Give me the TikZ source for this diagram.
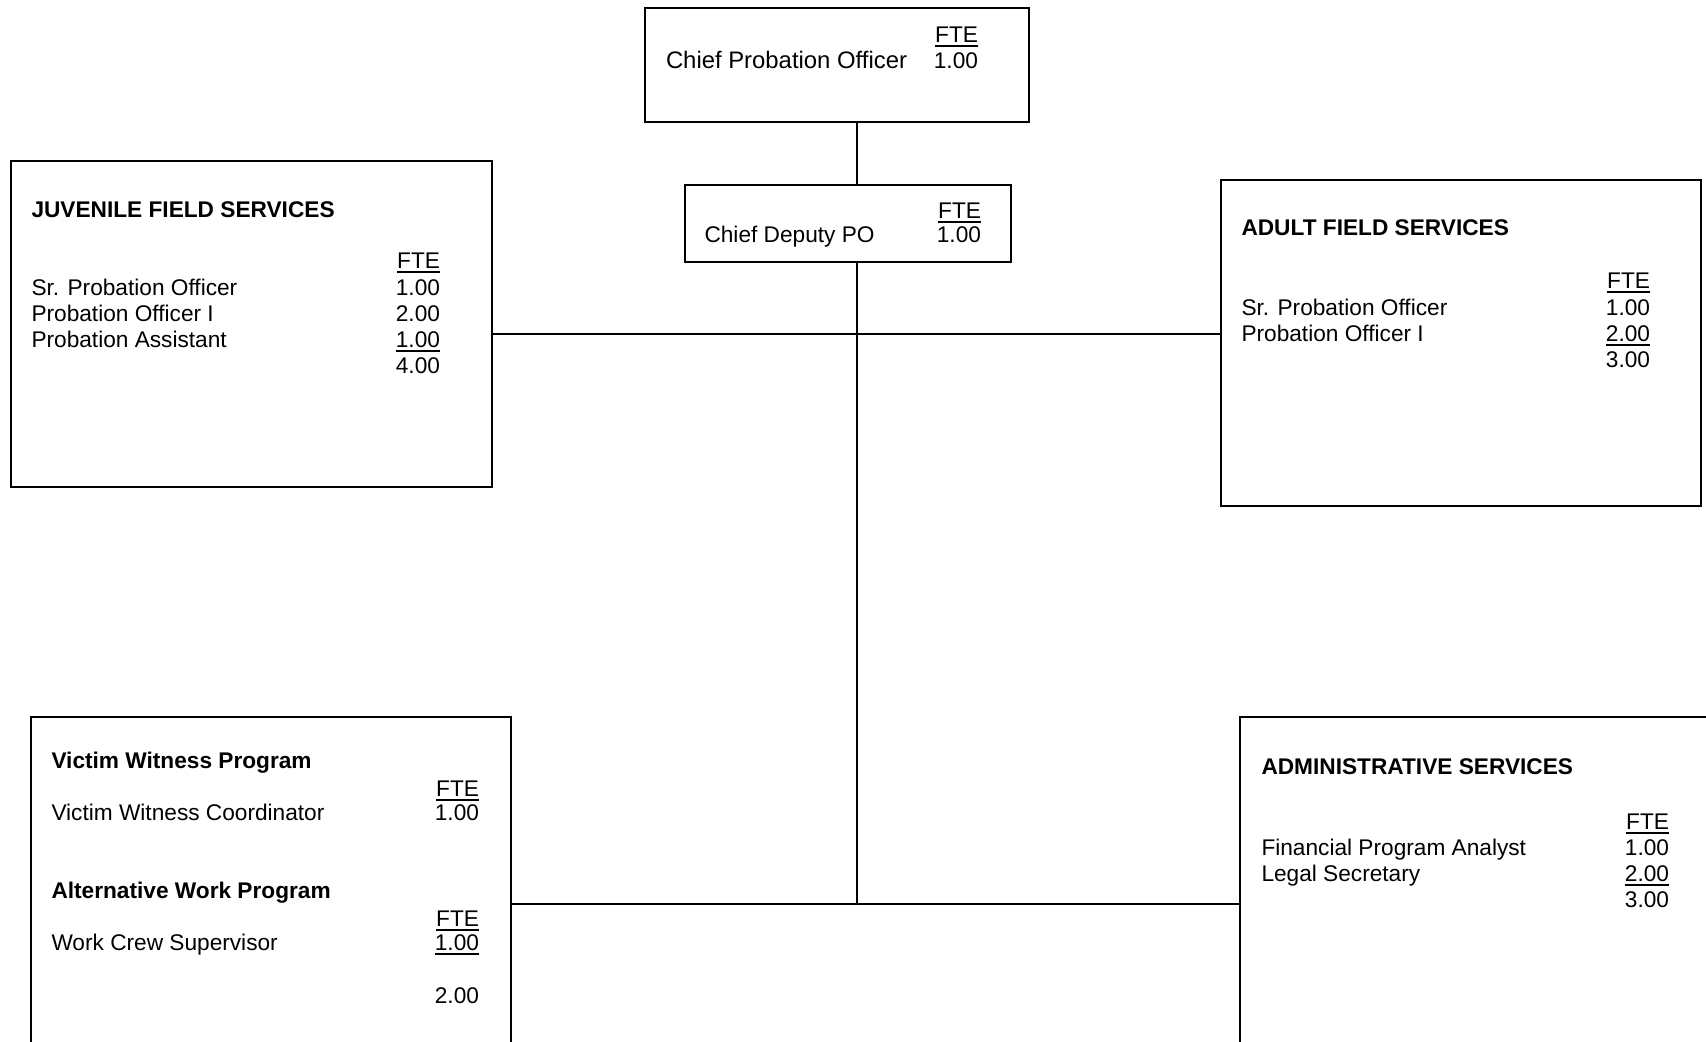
\documentclass[tikz,border=0pt]{standalone}
\usepackage{fontspec}
\setmainfont{Liberation Sans}
\newcommand\fteu[1]{\leavevmode\setbox0\hbox{#1}\rlap{\rule[-3.4pt]{\wd0}{1.5pt}}\box0}
\begin{document}
\begin{tikzpicture}[x=0.75pt,y=-0.75pt,line width=1.5pt,
  box/.style={draw,line width=1.5pt,inner sep=0pt},
  lbl/.style={anchor=base west,inner sep=0pt,font=\fontsize{17}{19.5}\selectfont},
  num/.style={anchor=base east,inner sep=0pt,font=\fontsize{17}{19.5}\selectfont},
  hd/.style={anchor=base west,inner sep=0pt,font=\fontsize{17}{19.5}\selectfont\bfseries}]
\useasboundingbox (0,0) rectangle (1706,1042);
\clip (0,0) rectangle (1706,1042);
% boxes
\node[box,minimum width=288pt,minimum height=85.9pt] (cpo) at (837,64.8) {};
\node[box,minimum width=244.5pt,minimum height=57.75pt] (cdp) at (848,223.5) {};
\node[box,minimum width=360.75pt,minimum height=244.5pt] (jfs) at (251.5,324) {};
\node[box,minimum width=360pt,minimum height=244.5pt] (afs) at (1461,343) {};
\node[box,minimum width=360pt,minimum height=255pt] (vwp) at (271,887) {};
\node[box,minimum width=360pt,minimum height=255pt] (adm) at (1480,887) {};
% connectors
\coordinate (vx) at (856.7,0);
\coordinate (hmid) at (0,334);
\coordinate (hbot) at (856.7,904);
\draw (cpo.south -| vx) -- (cdp.north -| vx);
\draw (cdp.south -| vx) -- (hbot);
\draw (jfs.east |- hmid) -- (afs.west |- hmid);
\draw (vwp.east |- hbot) -- (adm.west |- hbot);
% top
\node[lbl,font=\fontsize{17.9}{19.5}\selectfont] (cpoT) at (665,68) {Chief Probation Officer};
\node[num] (cpoF) at (979,42) {\fteu{FTE}};
\node[num] (cpoN) at (979,68) {1.00};
% deputy
\node[lbl] (cdpT) at (703.5,242) {Chief Deputy PO};
\node[num] (cdpF) at (982,218) {\fteu{FTE}};
\node[num] (cdpN) at (982,242) {1.00};
% juvenile
\node[hd] (jH) at (30.5,217) {JUVENILE FIELD SERVICES};
\node[num] (jF) at (441,268) {\fteu{FTE}};
\node[lbl] (j1) at (30.5,295) {Sr. Probation Officer};
\node[num] (j1n) at (441,295) {1.00};
\node[lbl] (j2) at (30.5,321) {Probation Officer I};
\node[num] (j2n) at (441,321) {2.00};
\node[lbl] (j3) at (30.5,347) {Probation Assistant};
\node[num] (j3n) at (441,347) {\fteu{1.00}};
\node[num] (jt) at (441,373) {4.00};
% adult
\node[hd] (aH) at (1240.5,235) {ADULT FIELD SERVICES};
\node[num] (aF) at (1651,288) {\fteu{FTE}};
\node[lbl] (a1) at (1240.5,315) {Sr. Probation Officer};
\node[num] (a1n) at (1651,315) {1.00};
\node[lbl] (a2) at (1240.5,341) {Probation Officer I};
\node[num] (a2n) at (1651,341) {\fteu{2.00}};
\node[num] (at) at (1651,367) {3.00};
% victim witness / alternative work
\node[hd] (vH) at (50.5,768) {Victim Witness Program};
\node[num] (vF) at (480,796) {\fteu{FTE}};
\node[lbl] (v1) at (50.5,820) {Victim Witness Coordinator};
\node[num] (v1n) at (480,820) {1.00};
\node[hd] (wH) at (50.5,898) {Alternative Work Program};
\node[num] (wF) at (480,926) {\fteu{FTE}};
\node[lbl] (w1) at (50.5,950) {Work Crew Supervisor};
\node[num] (w1n) at (480,950) {\fteu{1.00}};
\node[num] (wt) at (480,1003) {2.00};
% administrative
\node[hd] (dH) at (1260.5,774) {ADMINISTRATIVE SERVICES};
\node[num] (dF) at (1670,829) {\fteu{FTE}};
\node[lbl] (d1) at (1260.5,855) {Financial Program Analyst};
\node[num] (d1n) at (1670,855) {1.00};
\node[lbl] (d2) at (1260.5,881) {Legal Secretary};
\node[num] (d2n) at (1670,881) {\fteu{2.00}};
\node[num] (dt) at (1670,907) {3.00};
\end{tikzpicture}
\end{document}
